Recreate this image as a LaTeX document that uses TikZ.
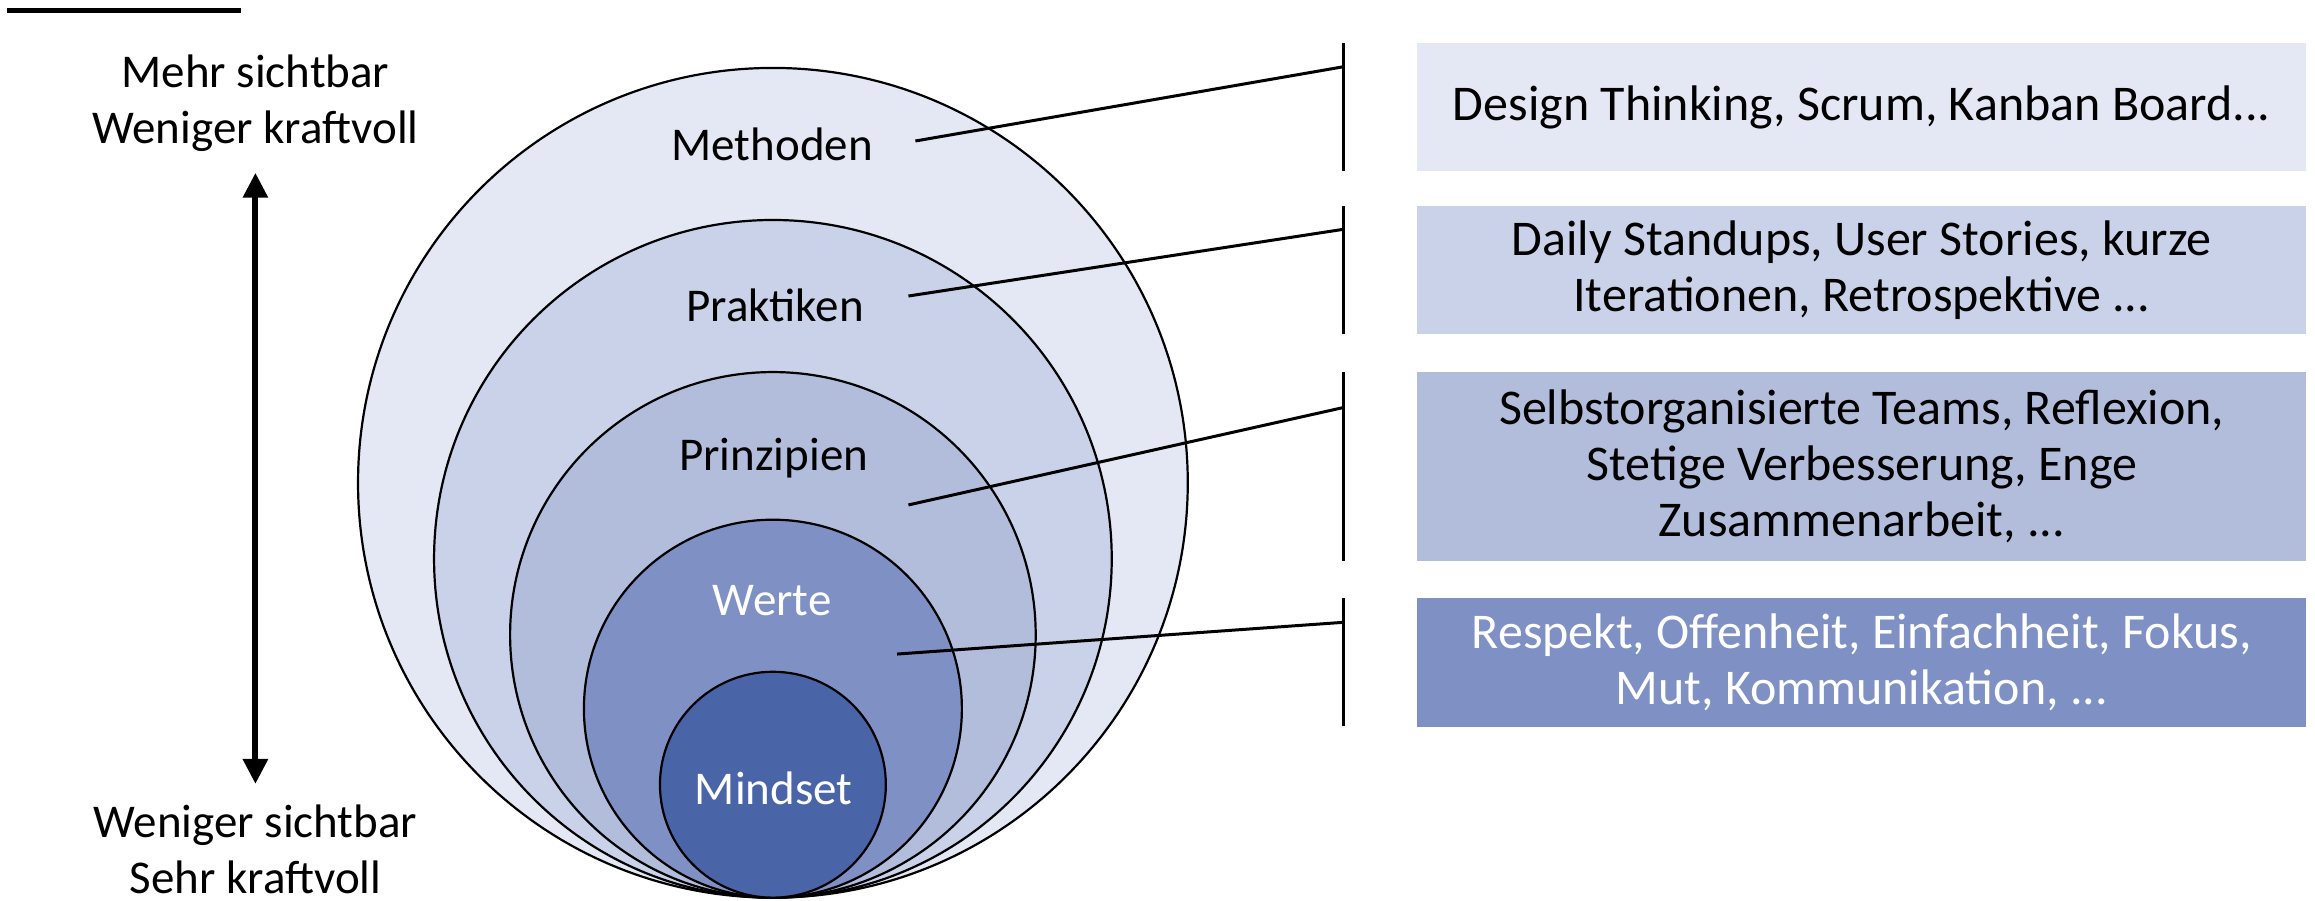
\documentclass[tikz,border=0pt]{standalone}
\usepackage{fontspec}
\setmainfont{Carlito}
\usetikzlibrary{arrows.meta}
\definecolor{cA}{HTML}{E4E8F4}
\definecolor{cB}{HTML}{C9D2E8}
\definecolor{cC}{HTML}{B2BDDC}
\definecolor{cD}{HTML}{7F91C4}
\definecolor{cE}{HTML}{4A64A8}
\begin{document}
\begin{tikzpicture}[x=0.7382pt,y=-0.7382pt,
  txt/.style={font=\fontsize{23.5}{28}\selectfont, inner sep=0pt, align=center},
  layer/.style={draw=black, line width=1.1pt},
  lead/.style={draw=black, line width=1.5pt},
  tick/.style={draw=black, line width=1.2pt},
  infobox/.style={rectangle, inner sep=0pt, minimum width=602*0.7382pt, align=center, font=\fontsize{25}{28}\selectfont}]
\useasboundingbox (0,0) rectangle (1568,610.2);
% top rule
\draw[line width=2.2pt] (5,7) coordinate (r1) -- (163,7) coordinate (r2);
% left labels
\node[txt] (top) at (173,70) {Mehr sichtbar\\Weniger kraftvoll};
\node[txt] (bot) at (173,575) {Weniger sichtbar\\Sehr kraftvoll};
\coordinate (atop) at (173,117);
\coordinate (abot) at (173,531);
\draw[line width=3pt, {Triangle[width=12pt,length=12.5pt]}-{Triangle[width=12pt,length=12.5pt]}] (atop) -- (abot);
% layers (circles tangent at bottom)
\coordinate (base) at (523.5,608);
\draw[layer, fill=cA] (523.5,327) circle[radius=281];
\draw[layer, fill=cB] (523.5,378.5) circle[radius=229.5];
\draw[layer, fill=cC] (523.5,430) circle[radius=178];
\draw[layer, fill=cD] (523.5,480) circle[radius=128];
\draw[layer, fill=cE] (523.5,531.5) circle[radius=76.5];
% layer labels
\node[txt] (lm) at (523,98) {Methoden};
\node[txt] (lp) at (525,207) {Praktiken};
\node[txt] (lq) at (524,310) {Prinzipien};
\node[txt, text=white] (lw) at (523,407) {Werte};
\node[txt, text=white] (li) at (524,534) {Mindset};
% info boxes
\node[infobox, fill=cA, minimum height=87*0.7382pt] (b1) at (1261,72.6) {Design Thinking, Scrum, Kanban Board...};
\node[infobox, fill=cB, minimum height=87*0.7382pt] (b2) at (1261,183) {Daily Standups, User Stories, kurze\\Iterationen, Retrospektive ...};
\node[infobox, fill=cC, minimum height=128*0.7382pt] (b3) at (1261,315.8) {Selbstorganisierte Teams, Reflexion,\\Stetige Verbesserung, Enge\\Zusammenarbeit, ...};
\node[infobox, fill=cD, minimum height=87*0.7382pt, text=white] (b4) at (1261,448.7) {Respekt, Offenheit, Einfachheit, Fokus,\\Mut, Kommunikation, ...};
% brackets
\draw[tick] (910,29) coordinate (t1a) -- (910,116) coordinate (t1b);
\draw[tick] (910,139.5) coordinate (t2a) -- (910,226.5) coordinate (t2b);
\draw[tick] (910,252) coordinate (t3a) -- (910,380) coordinate (t3b);
\draw[tick] (910,405) coordinate (t4a) -- (910,492) coordinate (t4b);
% leaders
\coordinate (s1) at (620,95.5); \coordinate (e1) at (910,45.2);
\coordinate (s2) at (615.3,200.5); \coordinate (e2) at (910,155.3);
\coordinate (s3) at (615.3,342); \coordinate (e3) at (910,276);
\coordinate (s4) at (607.6,443); \coordinate (e4) at (910,421.5);
\draw[lead] (s1) -- (e1);
\draw[lead] (s2) -- (e2);
\draw[lead] (s3) -- (e3);
\draw[lead] (s4) -- (e4);
\end{tikzpicture}
\end{document}
